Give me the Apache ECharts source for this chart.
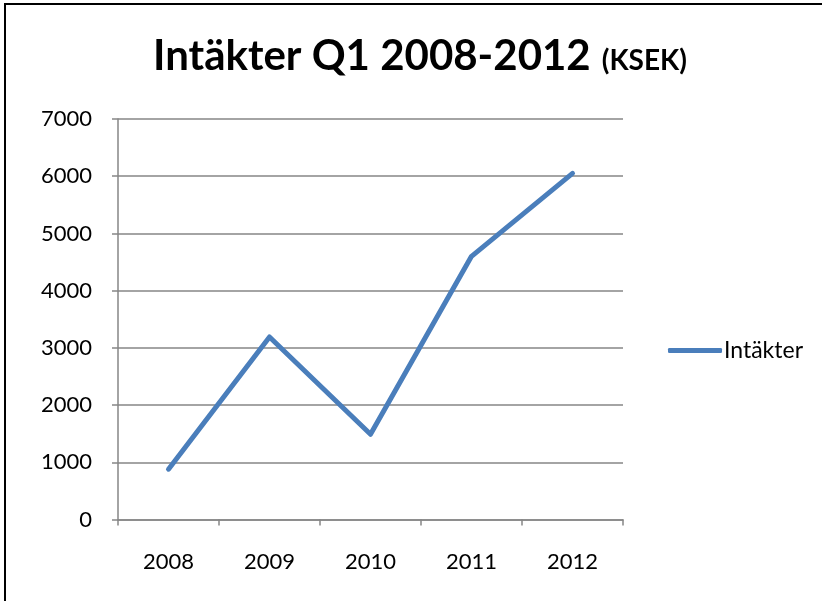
<!DOCTYPE html>
<html>
<head>
<meta charset="utf-8">
<script src="https://cdn.jsdelivr.net/npm/echarts@6/dist/echarts.min.js"></script>
<style>
html,body{margin:0;padding:0;background:#fff;}
#chart{width:822px;height:601px;}
</style>
</head>
<body>
<div id="chart"></div>
<script>
var categories = ['2008', '2009', '2010', '2011', '2012'];
var intakter = [880, 3190, 1490, 4600, 6050];
var yTicks = [0, 1000, 2000, 3000, 4000, 5000, 6000, 7000];
var seriesName = 'Intäkter';

var chart = echarts.init(document.getElementById('chart'));
var font = 'Lato, "Open Sans", sans-serif';
chart.setOption({
  animation: false,
  backgroundColor: '#fff',
  graphic: [{
    type: 'rect',
    shape: {x: 5, y: 4, width: 1000, height: 1000},
    style: {fill: 'none', stroke: '#000', lineWidth: 2},
    silent: true
  }],
  title: {
    text: '{a|Intäkter Q1 2008-2012} {b|(KSEK)}',
    left: 148,
    top: 30,
    textStyle: {
      rich: {
        a: {fontFamily: font, fontWeight: 'bold', fontSize: 42, color: '#000'},
        b: {fontFamily: font, fontWeight: 'bold', fontSize: 28, color: '#000', verticalAlign: 'bottom', padding: [0, 0, 2, 6]}
      }
    }
  },
  legend: {
    data: [seriesName],
    orient: 'vertical',
    left: 663,
    top: 334,
    itemWidth: 54,
    itemHeight: 5,
    itemGap: 0,
    icon: 'roundRect',
    textStyle: {fontFamily: font, fontSize: 23, color: '#000', padding: [0, 0, 0, -3]}
  },
  grid: {left: 118, right: 199, top: 119, bottom: 81.5, containLabel: false},
  xAxis: {
    type: 'category',
    data: categories,
    boundaryGap: true,
    axisLine: {lineStyle: {color: '#868686', width: 1.5}},
    axisTick: {show: true, length: 6, lineStyle: {color: '#868686', width: 1.5}},
    axisLabel: {fontFamily: font, fontSize: 22, color: '#000', margin: 31}
  },
  yAxis: {
    type: 'value',
    min: 0,
    max: 7000,
    interval: 1000,
    axisLine: {show: true, lineStyle: {color: '#868686', width: 1.5}},
    axisTick: {show: true, length: 6, lineStyle: {color: '#868686', width: 1.5}},
    splitLine: {lineStyle: {color: '#868686', width: 1.5}},
    axisLabel: {
      fontFamily: font, fontSize: 22, color: '#000', margin: 26,
      formatter: function (v) { return yTicks.indexOf(v) >= 0 ? String(v) : ''; }
    }
  },
  series: [{
    name: seriesName,
    type: 'line',
    data: intakter,
    symbol: 'none',
    lineStyle: {color: '#4a7ebb', width: 5, cap: 'round', join: 'round'},
    itemStyle: {color: '#4a7ebb'}
  }]
});
</script>
</body>
</html>
